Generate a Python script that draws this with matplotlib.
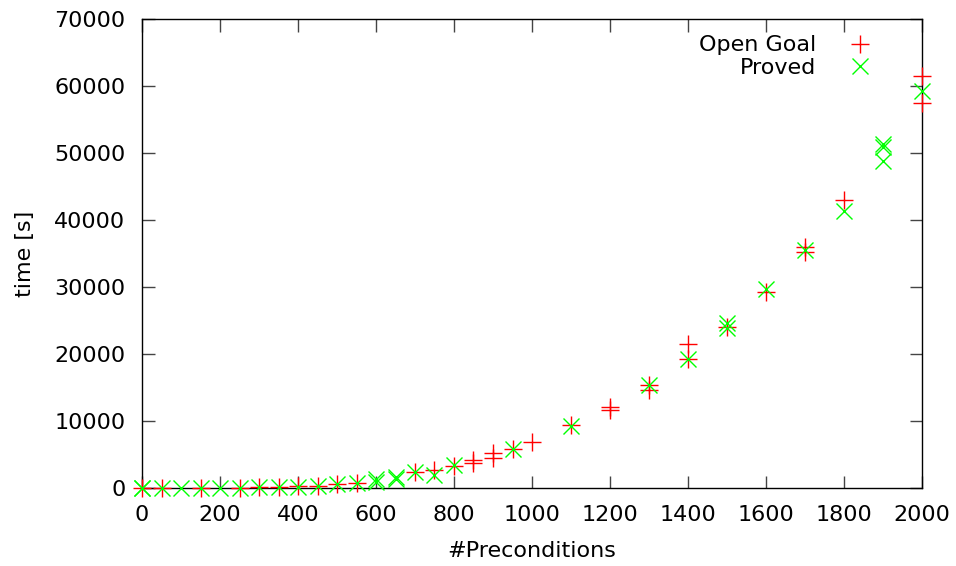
import matplotlib
matplotlib.use("Agg")
import matplotlib.pyplot as plt

# Data
open_x = [0, 50, 150, 250, 300, 350, 400, 450, 500, 550, 700, 750, 800, 850, 850,
          900, 900, 950, 1000, 1100, 1200, 1200, 1300, 1300, 1400, 1400, 1500,
          1600, 1700, 1700, 1800, 2000, 2000]
open_y = [0, 10, 30, 60, 100, 150, 250, 350, 550, 800, 2450, 2700, 3300, 4200, 3800,
          5200, 4500, 5800, 6900, 9400, 12100, 11700, 15300, 14700, 21500, 19300, 24000,
          29300, 36000, 35200, 43000, 61500, 57500]

proved_x = [0, 0, 50, 100, 150, 200, 250, 300, 350, 400, 450, 500, 550, 600, 600,
            650, 650, 700, 750, 800, 950, 1100, 1300, 1400, 1500, 1500, 1600, 1700,
            1800, 1900, 1900, 1900, 2000]
proved_y = [0, 0, 10, 20, 30, 40, 60, 100, 150, 200, 250, 550, 800, 1300, 900,
            1600, 1300, 2450, 2000, 3450, 5800, 9200, 15400, 19300, 24700, 23900, 29700, 35500,
            41300, 51300, 50900, 48800, 59200]

x_ticks = list(range(0, 2001, 200))
y_ticks = list(range(0, 70001, 10000))

FS = 16
plt.rcParams['font.family'] = ['DejaVu Sans']
fig = plt.figure(figsize=(9.56, 5.66), dpi=100)
ax = fig.add_axes([142/956, 1-488/566, (922-142)/956, (488-19)/566])

ax.plot(open_x, open_y, linestyle='none', marker='+', markersize=12.5,
        markeredgewidth=1.0, color='#ff0000', label='Open Goal', clip_on=False, zorder=3)
ax.plot(proved_x, proved_y, linestyle='none', marker='x', markersize=12,
        markeredgewidth=1.0, color='#00ff00', label='Proved', clip_on=False, zorder=4)

ax.set_xlim(0, 2000)
ax.set_ylim(0, 70000)
ax.set_xticks(x_ticks)
ax.set_yticks(y_ticks)
ax.tick_params(direction='in', length=9, width=1, top=True, right=True,
               labelsize=FS, color='#444444')
ax.tick_params(axis='x', pad=12)
ax.tick_params(axis='y', pad=12)
for s in ax.spines.values():
    s.set_linewidth(1.0)
    s.set_color('black')

ax.set_xlabel('#Preconditions', fontsize=FS, labelpad=12)
ax.set_ylabel('time [s]', fontsize=FS, labelpad=14)

ax.legend(loc='upper right', frameon=False, markerfirst=False, fontsize=FS,
          handlelength=1.2, handletextpad=1.4, labelspacing=0.1,
          bbox_to_anchor=(0.958, 0.998), borderaxespad=0.3)

fig.savefig('out.png', dpi=100)
